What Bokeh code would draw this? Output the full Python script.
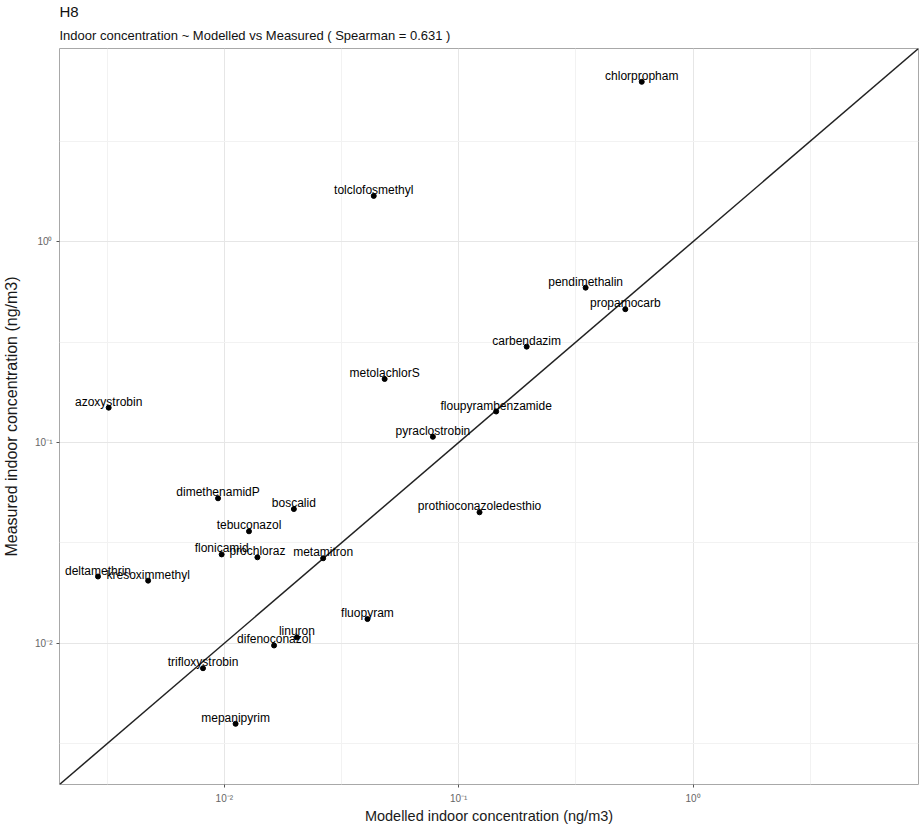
from bokeh.plotting import figure
from bokeh.models import Range1d, FixedTicker, CustomJSTickFormatter, Title, ColumnDataSource
from bokeh.core.properties import value
from bokeh.embed import file_html
from bokeh.resources import INLINE

compounds = ["chlorpropham", "tolclofosmethyl", "pendimethalin", "propamocarb", "carbendazim",
             "metolachlorS", "floupyrambenzamide", "pyraclostrobin", "prothioconazoledesthio",
             "azoxystrobin", "dimethenamidP", "boscalid", "tebuconazol", "flonicamid", "prochloraz",
             "metamitron", "deltamethrin", "kresoximmethyl", "fluopyram", "linuron", "difenoconazol",
             "trifloxystrobin", "mepanipyrim"]
modelled = [0.604, 0.0434, 0.348, 0.514, 0.195,
            0.0483, 0.1445, 0.0776, 0.1227,
            0.00321, 0.0094, 0.0198, 0.01274, 0.00974, 0.01384,
            0.0264, 0.00289, 0.00473, 0.0408, 0.0204, 0.0163,
            0.00811, 0.01117]
measured = [6.25, 1.69, 0.59, 0.461, 0.30,
            0.207, 0.1426, 0.1067, 0.0449,
            0.149, 0.0527, 0.0466, 0.0361, 0.0277, 0.0268,
            0.0265, 0.0215, 0.0205, 0.0132, 0.0107, 0.00975,
            0.00751, 0.00397]

axis_limits = [0.00198, 9.16]
major_ticks = [0.01, 0.1, 1.0]
minor_ticks = [10 ** -2.5, 10 ** -1.5, 10 ** -0.5, 10 ** 0.5]
tick_labels = ["10\u207b\u00b2", "10\u207b\u00b9", "10\u2070"]

title_text = "H8"
subtitle_text = "Indoor concentration ~ Modelled vs Measured ( Spearman = 0.631 )"
x_title = "Modelled indoor concentration (ng/m3)"
y_title = "Measured indoor concentration (ng/m3)"

FONT = "Liberation Sans"

p = figure(width=920, height=826, x_axis_type="log", y_axis_type="log",
           x_range=Range1d(*axis_limits), y_range=Range1d(*axis_limits),
           output_backend="svg", toolbar_location=None,
           min_border_left=58, min_border_right=2, min_border_top=48, min_border_bottom=41)

p.title.text = title_text
p.title.text_font = FONT
p.title.text_font_size = "15px"
p.title.text_font_style = "normal"
p.title.text_color = "#111111"
p.title.standoff = 1
p.title.align = "left"
p.add_layout(Title(text=subtitle_text, text_font=FONT, text_font_size="13px",
                   text_font_style="normal", text_color="#111111", standoff=11, align="left"), "above")

p.background_fill_color = "white"
p.border_fill_color = "white"
p.outline_line_color = "#a8a8a8"
p.outline_line_width = 1

fmt = CustomJSTickFormatter(args=dict(major_vals=major_ticks, label_texts=tick_labels), code="""
for (let i = 0; i < major_vals.length; i++) {
  if (Math.abs(Math.log10(tick) - Math.log10(major_vals[i])) < 1e-6) { return label_texts[i]; }
}
return "";
""")

for ax in (p.xaxis[0], p.yaxis[0]):
    ax.ticker = FixedTicker(ticks=major_ticks, minor_ticks=minor_ticks)
    ax.formatter = fmt
    ax.axis_line_color = None
    ax.major_tick_line_color = "#555555"
    ax.major_tick_in = 0
    ax.major_tick_out = 3
    ax.minor_tick_line_color = None
    ax.major_label_text_font = FONT
    ax.major_label_text_font_size = "10px"
    ax.major_label_text_color = "#666666"
    ax.axis_label_text_font = FONT
    ax.axis_label_text_font_style = "normal"
    ax.axis_label_text_color = "#1a1a1a"

p.xaxis.axis_label = x_title
p.yaxis.axis_label = y_title
p.xaxis.axis_label_text_font_size = "14.5px"
p.yaxis.axis_label_text_font_size = "16px"
p.xaxis.major_label_standoff = 4
p.xaxis.axis_label_standoff = 1
p.yaxis.major_label_standoff = 3
p.yaxis.axis_label_standoff = 12

for g in (p.xgrid[0], p.ygrid[0]):
    g.grid_line_color = "#e6e6e6"
    g.grid_line_width = 1
    g.minor_grid_line_color = "#f2f2f2"
    g.minor_grid_line_width = 1

p.line(x=axis_limits, y=axis_limits, line_color="#222222", line_width=1.5)

src = ColumnDataSource(dict(x=modelled, y=measured, name=compounds))
p.scatter(x="x", y="y", source=src, size=5, color="black")
p.text(x="x", y="y", text="name", source=src, text_align="center", text_baseline="middle",
       y_offset=-6, text_font=value(FONT), text_font_size="12px", text_color="black")

open("out.html", "w").write(file_html(p, INLINE))
